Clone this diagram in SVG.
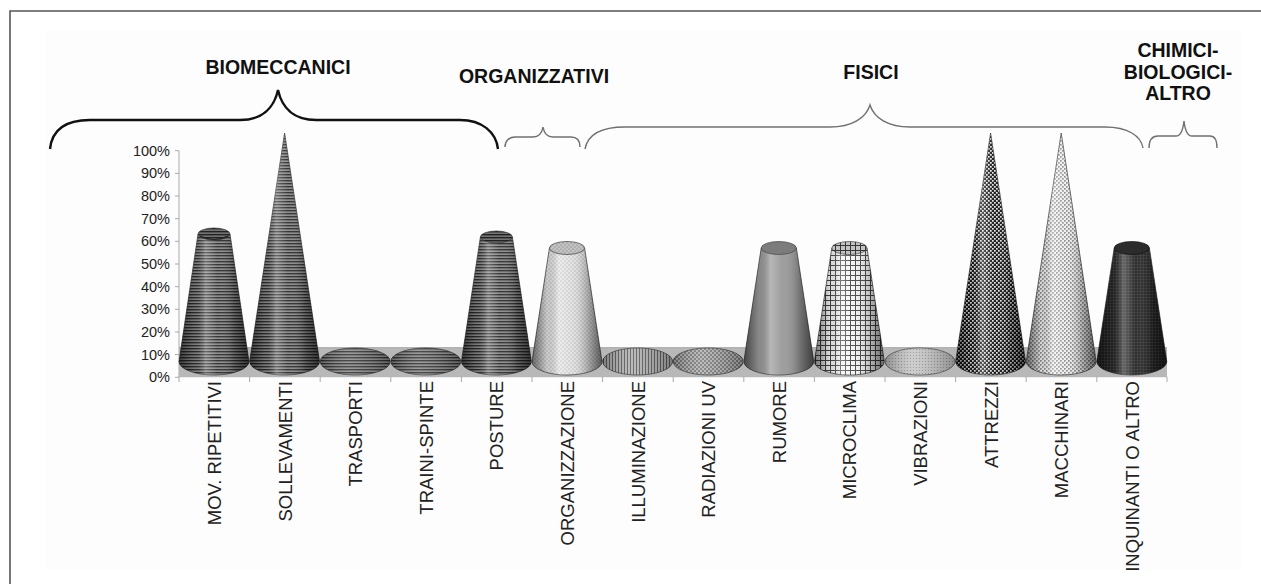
<svg xmlns="http://www.w3.org/2000/svg" width="1261" height="584" viewBox="0 0 1261 584">
<style>
.tick{stroke:#aaa;stroke-width:1;fill:none}
.ylab{font-family:"Liberation Sans",Arial,sans-serif;font-size:14.5px;fill:#222;text-anchor:end}
.xlab{font-family:"Liberation Sans",Arial,sans-serif;font-size:18.5px;fill:#222;text-anchor:end}
.title{font-family:"Liberation Sans",Arial,sans-serif;font-size:19.5px;font-weight:bold;fill:#111;text-anchor:middle}
.brace{fill:none;stroke:#707070;stroke-width:1.4}
.braceB{fill:none;stroke:#111;stroke-width:2.4}
.body{stroke:#333;stroke-width:0.7}
.sh{fill:url(#shade);stroke:none}
.shf{fill:url(#shadeF);stroke:none}
</style>
<defs>
<linearGradient id="shade" x1="0" y1="0" x2="1" y2="0">
<stop offset="0" stop-color="#000" stop-opacity="0.55"/>
<stop offset="0.22" stop-color="#000" stop-opacity="0.1"/>
<stop offset="0.38" stop-color="#fff" stop-opacity="0.3"/>
<stop offset="0.55" stop-color="#fff" stop-opacity="0.05"/>
<stop offset="0.8" stop-color="#000" stop-opacity="0.25"/>
<stop offset="1" stop-color="#000" stop-opacity="0.6"/>
</linearGradient>
<linearGradient id="shadeF" x1="0" y1="0" x2="1" y2="0">
<stop offset="0" stop-color="#000" stop-opacity="0.3"/>
<stop offset="0.4" stop-color="#fff" stop-opacity="0.15"/>
<stop offset="1" stop-color="#000" stop-opacity="0.3"/>
</linearGradient>
<pattern id="pH" width="4" height="3" patternUnits="userSpaceOnUse"><rect width="4" height="3" fill="#666"/><rect width="4" height="1" fill="#2b2b2b"/><rect y="2" width="4" height="0.6" fill="#a0a0a0"/></pattern>
<pattern id="pHt" width="4" height="3" patternUnits="userSpaceOnUse"><rect width="4" height="3" fill="#555"/><rect width="4" height="1" fill="#222"/><rect y="2" width="4" height="0.6" fill="#888"/></pattern>
<pattern id="pDot" width="4" height="4" patternUnits="userSpaceOnUse"><rect width="4" height="4" fill="#e4e4e4"/><circle cx="1" cy="1" r="0.55" fill="#888"/><circle cx="3" cy="3" r="0.55" fill="#888"/></pattern>
<pattern id="pV" width="3" height="3" patternUnits="userSpaceOnUse"><rect width="3" height="3" fill="#b0b0b0"/><rect width="1" height="3" fill="#555"/></pattern>
<pattern id="pUV" width="4" height="4" patternUnits="userSpaceOnUse"><rect width="4" height="4" fill="#b4b4b4"/><rect width="2" height="2" fill="#777"/><rect x="2" y="2" width="2" height="2" fill="#777"/></pattern>
<pattern id="pGrid" width="5" height="5" patternUnits="userSpaceOnUse"><rect width="5" height="5" fill="#f4f4f4"/><rect width="1" height="5" fill="#444"/><rect width="5" height="1" fill="#444"/></pattern>
<pattern id="pVib" width="3" height="3" patternUnits="userSpaceOnUse"><rect width="3" height="3" fill="#c6c6c6"/><circle cx="1.5" cy="1.5" r="0.6" fill="#888"/></pattern>
<pattern id="pChkD" width="4" height="4" patternUnits="userSpaceOnUse"><rect width="4" height="4" fill="#151515"/><rect width="1.7" height="1.7" fill="#e8e8e8"/><rect x="2" y="2" width="1.7" height="1.7" fill="#e8e8e8"/></pattern>
<pattern id="pChkL" width="4" height="4" patternUnits="userSpaceOnUse"><rect width="4" height="4" fill="#f0f0f0"/><rect width="1.7" height="1.7" fill="#8a8a8a"/><rect x="2" y="2" width="1.7" height="1.7" fill="#8a8a8a"/></pattern>
<pattern id="pBlk" width="3" height="3" patternUnits="userSpaceOnUse"><rect width="3" height="3" fill="#222"/><rect width="0.7" height="3" fill="#3c3c3c"/><rect width="3" height="0.7" fill="#3c3c3c"/></pattern>
</defs>

<rect x="0" y="0" width="1261" height="584" fill="#fff"/>
<rect x="45" y="30" width="1197" height="540" fill="#fdfdfd"/>
<path d="M10,584 V11 H1261" fill="none" stroke="#555" stroke-width="1.6"/>

<g id="titles">
<text class="title" x="278" y="74">BIOMECCANICI</text>
<text class="title" x="534" y="82.5">ORGANIZZATIVI</text>
<text class="title" x="871" y="79">FISICI</text>
<text class="title" x="1178" y="57.3">CHIMICI-</text>
<text class="title" x="1178" y="78.7">BIOLOGICI-</text>
<text class="title" x="1178" y="100">ALTRO</text>
</g>

<g id="connectors">
<path class="braceB" d="M50,149 C52,130 65,120 90,120 L240,120 C262,120 274,108 278,90 C282,108 294,120 316,120 L460,120 C482,120 496,132 498,149"/>
<path class="brace" d="M505,147 C505,141 509,137 515,137 L533,137 C539,137 542,133 543,127 C544,133 547,137 553,137 L571,137 C577,137 580,141 580,147"/>
<path class="brace" d="M585,149 C588,133 602,127 625,127 L830,127 C852,127 866,118 870,105 C874,118 888,127 910,127 L1105,127 C1128,127 1141,136 1143,148"/>
<path class="brace" d="M1149,148 C1149,140 1152,136 1158,136 L1176,136 C1181,136 1183,130 1184,121 C1185,130 1187,136 1192,136 L1210,136 C1215,136 1217,140 1217,148"/>
</g>

<g id="axes">
<line class="tick" x1="179" y1="150.7" x2="179" y2="377"/>
<path class="tick" d="M175,377.3H179M175,354.6H179M175,332H179M175,309.3H179M175,286.7H179M175,264H179M175,241.3H179M175,218.7H179M175,196H179M175,173.4H179M175,150.7H179"/>
<text class="ylab" x="170" y="382.3">0%</text>
<text class="ylab" x="170" y="359.6">10%</text>
<text class="ylab" x="170" y="337">20%</text>
<text class="ylab" x="170" y="314.3">30%</text>
<text class="ylab" x="170" y="291.7">40%</text>
<text class="ylab" x="170" y="269">50%</text>
<text class="ylab" x="170" y="246.3">60%</text>
<text class="ylab" x="170" y="223.7">70%</text>
<text class="ylab" x="170" y="201">80%</text>
<text class="ylab" x="170" y="178.4">90%</text>
<text class="ylab" x="170" y="155.7">100%</text>
<rect x="179" y="347.7" width="988" height="28.5" fill="#b8b8b8"/>
<line x1="179" y1="347.7" x2="1167" y2="347.7" stroke="#a5a5a5" stroke-width="1"/>
<line class="tick" x1="179" y1="376.7" x2="1167" y2="376.7"/>
<path class="tick" d="M179,376.7V382M249.6,376.7V382M320.2,376.7V382M390.8,376.7V382M461.4,376.7V382M532,376.7V382M602.6,376.7V382M673.2,376.7V382M743.8,376.7V382M814.4,376.7V382M885,376.7V382M955.6,376.7V382M1026.2,376.7V382M1096.8,376.7V382M1167,376.7V382"/>
</g>

<g id="mov-ripetitivi">
<path class="body" fill="url(#pH)" d="M198,234 L179,361.5 A35,13.5 0 0 0 249,361.5 L230,234 Z"/>
<path class="sh" d="M198,234 L179,361.5 A35,13.5 0 0 0 249,361.5 L230,234 Z"/>
<ellipse cx="214" cy="234" rx="16" ry="6" fill="url(#pHt)" stroke="#333" stroke-width="0.7"/>
<path d="M200,236 Q214,243 228,236" fill="none" stroke="#222" stroke-width="1.2"/>
<text class="xlab" transform="translate(221,381) rotate(-90)">MOV. RIPETITIVI</text>
</g>
<g id="sollevamenti">
<path class="body" fill="url(#pH)" d="M284.6,133 L249.6,361.5 A35,13.5 0 0 0 319.6,361.5 Z"/>
<path class="sh" d="M284.6,133 L249.6,361.5 A35,13.5 0 0 0 319.6,361.5 Z"/>
<text class="xlab" transform="translate(291.6,381) rotate(-90)">SOLLEVAMENTI</text>
</g>
<g id="trasporti">
<ellipse cx="355.2" cy="361.5" rx="35" ry="13.5" fill="url(#pH)" stroke="#333" stroke-width="0.7"/>
<ellipse cx="355.2" cy="361.5" rx="35" ry="13.5" class="shf"/>
<text class="xlab" transform="translate(362.2,381) rotate(-90)">TRASPORTI</text>
</g>
<g id="traini-spinte">
<ellipse cx="425.8" cy="361.5" rx="35" ry="13.5" fill="url(#pH)" stroke="#333" stroke-width="0.7"/>
<ellipse cx="425.8" cy="361.5" rx="35" ry="13.5" class="shf"/>
<text class="xlab" transform="translate(432.8,381) rotate(-90)">TRAINI-SPINTE</text>
</g>
<g id="posture">
<path class="body" fill="url(#pH)" d="M480.4,237 L461.4,361.5 A35,13.5 0 0 0 531.4,361.5 L512.4,237 Z"/>
<path class="sh" d="M480.4,237 L461.4,361.5 A35,13.5 0 0 0 531.4,361.5 L512.4,237 Z"/>
<ellipse cx="496.4" cy="237" rx="16" ry="6" fill="url(#pHt)" stroke="#333" stroke-width="0.7"/>
<text class="xlab" transform="translate(503.4,381) rotate(-90)">POSTURE</text>
</g>
<g id="organizzazione">
<path class="body" fill="url(#pDot)" d="M549.4,248 L532,361.5 A35,13.5 0 0 0 602,361.5 L584.6,248 Z"/>
<path class="sh" d="M549.4,248 L532,361.5 A35,13.5 0 0 0 602,361.5 L584.6,248 Z"/>
<ellipse cx="567" cy="248" rx="17.6" ry="6.5" fill="url(#pDot)" stroke="#444" stroke-width="0.7"/>
<ellipse cx="567" cy="248" rx="17.6" ry="6.5" fill="#000" opacity="0.15"/>
<text class="xlab" transform="translate(574,381) rotate(-90)">ORGANIZZAZIONE</text>
</g>
<g id="illuminazione">
<ellipse cx="637.6" cy="361.5" rx="35" ry="13.5" fill="url(#pV)" stroke="#333" stroke-width="0.7"/>
<ellipse cx="637.6" cy="361.5" rx="35" ry="13.5" class="shf"/>
<text class="xlab" transform="translate(644.6,381) rotate(-90)">ILLUMINAZIONE</text>
</g>
<g id="radiazioni-uv">
<ellipse cx="708.2" cy="361.5" rx="35" ry="13.5" fill="url(#pUV)" stroke="#333" stroke-width="0.7"/>
<ellipse cx="708.2" cy="361.5" rx="35" ry="13.5" class="shf"/>
<text class="xlab" transform="translate(715.2,381) rotate(-90)">RADIAZIONI UV</text>
</g>
<g id="rumore">
<path class="body" fill="#999" d="M761.2,248 L743.8,361.5 A35,13.5 0 0 0 813.8,361.5 L796.4,248 Z"/>
<path class="sh" d="M761.2,248 L743.8,361.5 A35,13.5 0 0 0 813.8,361.5 L796.4,248 Z"/>
<ellipse cx="778.8" cy="248" rx="17.6" ry="6.5" fill="#7c7c7c" stroke="#444" stroke-width="0.7"/>
<text class="xlab" transform="translate(785.8,381) rotate(-90)">RUMORE</text>
</g>
<g id="microclima">
<path class="body" fill="url(#pGrid)" d="M831.8,248 L814.4,361.5 A35,13.5 0 0 0 884.4,361.5 L867,248 Z"/>
<path class="sh" d="M831.8,248 L814.4,361.5 A35,13.5 0 0 0 884.4,361.5 L867,248 Z"/>
<ellipse cx="849.4" cy="248" rx="17.6" ry="6.5" fill="url(#pGrid)" stroke="#444" stroke-width="0.7"/>
<ellipse cx="849.4" cy="248" rx="17.6" ry="6.5" fill="#000" opacity="0.2"/>
<text class="xlab" transform="translate(856.4,381) rotate(-90)">MICROCLIMA</text>
</g>
<g id="vibrazioni">
<ellipse cx="920" cy="361.5" rx="35" ry="13.5" fill="url(#pVib)" stroke="#444" stroke-width="0.7"/>
<ellipse cx="920" cy="361.5" rx="35" ry="13.5" class="shf"/>
<text class="xlab" transform="translate(927,381) rotate(-90)">VIBRAZIONI</text>
</g>
<g id="attrezzi">
<path class="body" fill="url(#pChkD)" d="M990.6,133 L955.6,361.5 A35,13.5 0 0 0 1025.6,361.5 Z"/>
<path class="sh" d="M990.6,133 L955.6,361.5 A35,13.5 0 0 0 1025.6,361.5 Z"/>
<text class="xlab" transform="translate(997.6,381) rotate(-90)">ATTREZZI</text>
</g>
<g id="macchinari">
<path class="body" fill="url(#pChkL)" d="M1061.2,133 L1026.2,361.5 A35,13.5 0 0 0 1096.2,361.5 Z"/>
<path class="sh" d="M1061.2,133 L1026.2,361.5 A35,13.5 0 0 0 1096.2,361.5 Z"/>
<text class="xlab" transform="translate(1068.2,381) rotate(-90)">MACCHINARI</text>
</g>
<g id="inquinanti-o-altro">
<path class="body" fill="url(#pBlk)" d="M1114.2,248 L1096.8,361.5 A35,13.5 0 0 0 1166.8,361.5 L1149.4,248 Z"/>
<path class="sh" d="M1114.2,248 L1096.8,361.5 A35,13.5 0 0 0 1166.8,361.5 L1149.4,248 Z"/>
<ellipse cx="1131.8" cy="248" rx="17.6" ry="6.5" fill="#2c2c2c" stroke="#111" stroke-width="0.7"/>
<text class="xlab" transform="translate(1138.8,381) rotate(-90)">INQUINANTI O ALTRO</text>
</g>
</svg>
